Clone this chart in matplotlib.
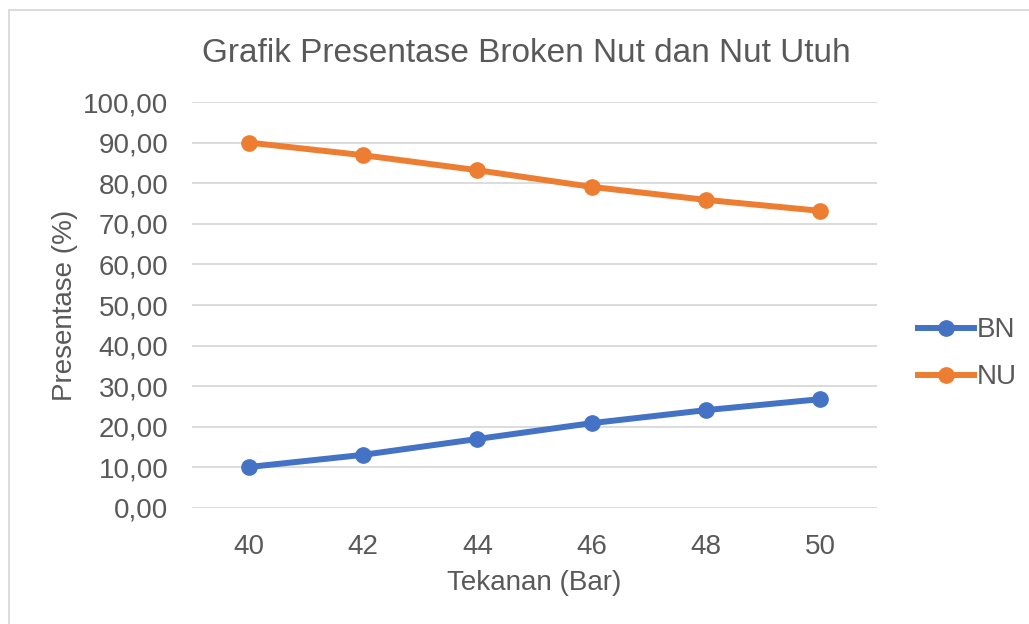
import numpy as np
import matplotlib
matplotlib.use('Agg')
import matplotlib.pyplot as plt
from matplotlib.lines import Line2D

plt.rcParams['font.family'] = ['Liberation Sans', 'DejaVu Sans']

# data
tekanan = ['40', '42', '44', '46', '48', '50']
bn = [10.1, 13.1, 17.0, 20.9, 24.1, 26.8]
nu = [90.0, 86.9, 83.2, 79.1, 75.9, 73.2]

text_col = '#595959'
grid_col = '#D9D9D9'
blue = '#4472C4'
orange = '#ED7D31'
lw = 4.3
ms = 11

fig = plt.figure(figsize=(10.29, 6.24), dpi=100)
ax = fig.add_axes([0.1866, 0.1859, 0.8523 - 0.1866, 0.8365 - 0.1859])

x = np.arange(len(tekanan))
ax.plot(x, bn, color=blue, lw=lw, marker='o', ms=ms, label='BN', solid_capstyle='round')
ax.plot(x, nu, color=orange, lw=lw, marker='o', ms=ms, label='NU', solid_capstyle='round')

ax.set_xlim(-0.5, len(tekanan) - 0.5)
ax.set_ylim(0, 100)
ax.set_xticks(x)
ax.set_xticklabels(tekanan)
yt = np.arange(0, 101, 10)
ax.set_yticks(yt)
ax.set_yticklabels(['%d,00' % v for v in yt])
ax.grid(axis='y', color=grid_col, lw=1.3)
ax.set_axisbelow(True)
for s in ax.spines.values():
    s.set_visible(False)
ax.tick_params(length=0, labelsize=20, labelcolor=text_col, pad=19)
ax.tick_params(axis='y', pad=17)

ax.set_xlabel('Tekanan (Bar)', fontsize=20, color=text_col, labelpad=7)
ax.set_ylabel('Presentase (%)', fontsize=20, color=text_col, labelpad=4)
fig.text(0.511, 0.915, 'Grafik Presentase Broken Nut dan Nut Utuh', fontsize=24,
         color=text_col, ha='center', va='center')

handles = [Line2D([], [], color=blue, lw=lw, marker='o', ms=ms),
           Line2D([], [], color=orange, lw=lw, marker='o', ms=ms)]
leg = fig.legend(handles, ['BN', 'NU'], loc='center left', bbox_to_anchor=(0.868, 0.433),
                 frameon=False, fontsize=20, handlelength=2.0, handletextpad=0.1,
                 labelspacing=0.75, labelcolor=text_col)

# chart border (left and top edges visible)
fig.add_artist(Line2D([0.0087, 0.0087], [0, 1 - 10 / 624], color='#D9D9D9', lw=1.3,
                      transform=fig.transFigure))
fig.add_artist(Line2D([0.0087, 1], [1 - 10 / 624, 1 - 10 / 624], color='#D9D9D9', lw=1.3,
                      transform=fig.transFigure))

fig.savefig('out.png', dpi=100)
